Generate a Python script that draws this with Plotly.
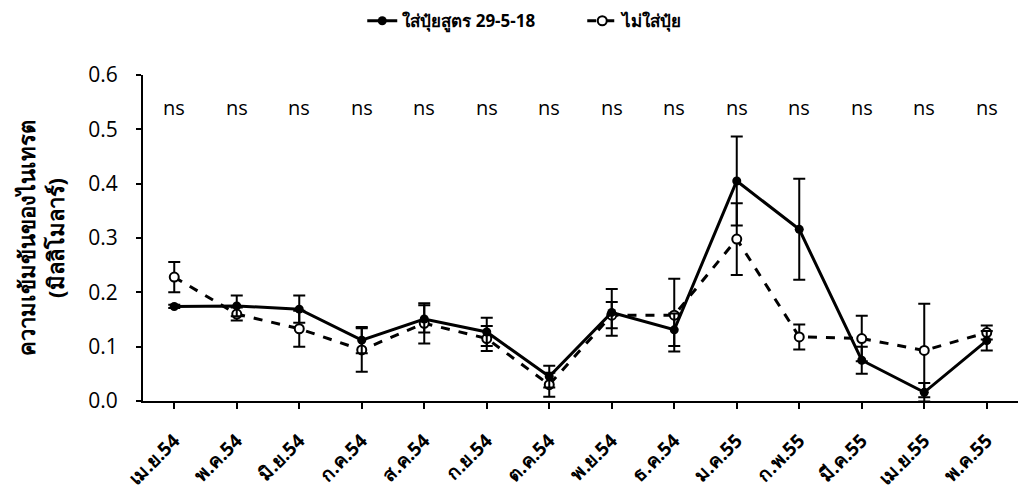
import plotly.graph_objects as go

months = ["เม.ย.54", "พ.ค.54", "มิ.ย.54", "ก.ค.54", "ส.ค.54", "ก.ย.54", "ต.ค.54",
          "พ.ย.54", "ธ.ค.54", "ม.ค.55", "ก.พ.55", "มี.ค.55", "เม.ย.55", "พ.ค.55"]
fert = [0.174, 0.175, 0.169, 0.112, 0.151, 0.127, 0.045,
        0.163, 0.131, 0.405, 0.316, 0.075, 0.016, 0.111]
fert_err = [0.003, 0.019, 0.025, 0.024, 0.025, 0.026, 0.020,
            0.043, 0.030, 0.082, 0.093, 0.025, 0.017, 0.018]
nofert = [0.228, 0.160, 0.133, 0.094, 0.143, 0.115, 0.030,
          0.158, 0.158, 0.298, 0.118, 0.115, 0.093, 0.126]
nofert_err = [0.028, 0.012, 0.033, 0.040, 0.037, 0.023, 0.022,
              0.024, 0.067, 0.066, 0.023, 0.042, 0.086, 0.013]
sig = ["ns"] * 14
name_fert = "ใส่ปุ๋ยสูตร 29-5-18"
name_nofert = "ไม่ใส่ปุ๋ย"

fig = go.Figure()
fig.add_trace(go.Scatter(
    x=months, y=nofert, name=name_nofert, mode="lines+markers",
    line=dict(color="black", width=3, dash="dash"),
    marker=dict(symbol="circle", size=9, color="white", line=dict(color="black", width=2)),
    error_y=dict(type="data", array=nofert_err, visible=True, color="black", thickness=2, width=6),
))
fig.add_trace(go.Scatter(
    x=months, y=fert, name=name_fert, mode="lines+markers",
    line=dict(color="black", width=3),
    marker=dict(symbol="circle", size=9, color="black"),
    error_y=dict(type="data", array=fert_err, visible=True, color="black", thickness=2, width=6),
))

for m, s in zip(months, sig):
    fig.add_annotation(x=m, y=0.54, text=s, showarrow=False,
                       font=dict(size=20, color="black", family="Open Sans"))

fig.update_layout(
    width=1021, height=494,
    margin=dict(l=143, r=3, t=75, b=93),
    paper_bgcolor="white", plot_bgcolor="white",
    font=dict(family="Open Sans, Noto Sans, sans-serif", color="black"),
    showlegend=True,
    legend=dict(orientation="h", x=0.502, y=1.165, xanchor="center", yanchor="middle",
                font=dict(size=17, color="black", weight="bold"), traceorder="reversed",
                entrywidthmode="pixels", entrywidth=175),
    xaxis=dict(
        type="category", range=[-0.5, 13.5],
        showline=True, linecolor="black", linewidth=2,
        ticks="outside", ticklen=6, tickwidth=2, tickcolor="black",
        tickangle=-45, tickfont=dict(size=19, color="black", weight="bold"),
        ticklabelstandoff=13,
        showgrid=False, zeroline=False,
    ),
    yaxis=dict(
        range=[0, 0.6], dtick=0.1, tickformat=".1f",
        showline=True, linecolor="black", linewidth=2,
        ticks="outside", ticklen=5, tickwidth=2, tickcolor="black",
        tickfont=dict(size=21, color="black"),
        ticklabelstandoff=14,
        showgrid=False, zeroline=False,
        title=dict(text="<b>ความเข้มข้นของไนเทรต<br>(มิลลิโมลาร์)</b>",
                   font=dict(size=22, color="black"), standoff=18),
    ),
)

fig.write_html("out.html")
